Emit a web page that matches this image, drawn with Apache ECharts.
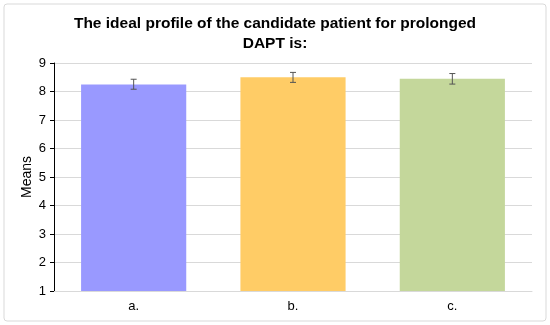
<!DOCTYPE html>
<html>
<head>
<meta charset="utf-8">
<script src="https://cdn.jsdelivr.net/npm/echarts@6/dist/echarts.min.js"></script>
<style>
  html, body { margin: 0; padding: 0; background: #fff; }
  #chart-container { width: 550px; height: 325px; }
</style>
</head>
<body>
<div id="chart-container"></div>
<script>
const categories = ['a.', 'b.', 'c.'];
const means = [8.25, 8.5, 8.45];
const errLow = [8.08, 8.32, 8.26];
const errHigh = [8.43, 8.67, 8.63];
const barColors = ['#9999ff', '#ffcc66', '#c4d79b'];
const yTicks = [1, 2, 3, 4, 5, 6, 7, 8, 9];

var dom = document.getElementById('chart-container');
var myChart = echarts.init(dom, null, { renderer: 'canvas' });

const font = 'Arial, "Liberation Sans", sans-serif';

var option = {
  animation: false,
  graphic: [{
    type: 'rect',
    shape: { x: 4, y: 4, width: 542, height: 317, r: 3 },
    style: { fill: 'none', stroke: '#d9d9d9', lineWidth: 1 },
    silent: true
  }],
  title: {
    text: 'The ideal profile of the candidate patient for prolonged\nDAPT is:',
    left: 'center',
    top: 9,
    textStyle: {
      fontFamily: font, fontSize: 15.5, fontWeight: 'bold', color: '#000', lineHeight: 20
    }
  },
  grid: { left: 54, right: 18, top: 63, bottom: 34 },
  xAxis: {
    type: 'category',
    data: categories,
    axisLine: { show: true, lineStyle: { color: '#d9d9d9', width: 1 } },
    axisTick: { show: false },
    axisLabel: { fontFamily: font, fontSize: 13, color: '#000', margin: 9 }
  },
  yAxis: {
    type: 'value',
    min: yTicks[0],
    max: yTicks[yTicks.length - 1],
    interval: 1,
    name: 'Means',
    nameLocation: 'middle',
    nameGap: 20,
    nameMoveOverlap: false,
    nameTextStyle: { fontFamily: font, fontSize: 14, color: '#000' },
    axisLine: { show: true, lineStyle: { color: '#000', width: 1 } },
    axisTick: { show: true, inside: false, length: 4, lineStyle: { color: '#000' } },
    axisLabel: { fontFamily: font, fontSize: 13, color: '#000', margin: 8 },
    splitLine: { show: true, lineStyle: { color: '#d9d9d9', width: 1 } }
  },
  series: [
    {
      type: 'bar',
      barWidth: '66%',
      data: means.map((v, i) => ({ value: v, itemStyle: { color: barColors[i] } }))
    },
    {
      type: 'custom',
      data: categories.map((c, i) => [i, errLow[i], errHigh[i]]),
      z: 10,
      renderItem: function (params, api) {
        const x = api.value(0);
        const lo = api.coord([x, api.value(1)]);
        const hi = api.coord([x, api.value(2)]);
        const hw = 3;
        const st = { stroke: '#555', lineWidth: 1 };
        return {
          type: 'group',
          children: [
            { type: 'line', shape: { x1: lo[0], y1: lo[1], x2: hi[0], y2: hi[1] }, style: st },
            { type: 'line', shape: { x1: lo[0] - hw, y1: lo[1], x2: lo[0] + hw, y2: lo[1] }, style: st },
            { type: 'line', shape: { x1: hi[0] - hw, y1: hi[1], x2: hi[0] + hw, y2: hi[1] }, style: st }
          ]
        };
      }
    }
  ]
};

myChart.setOption(option);
window.addEventListener('resize', myChart.resize);
</script>
</body>
</html>
